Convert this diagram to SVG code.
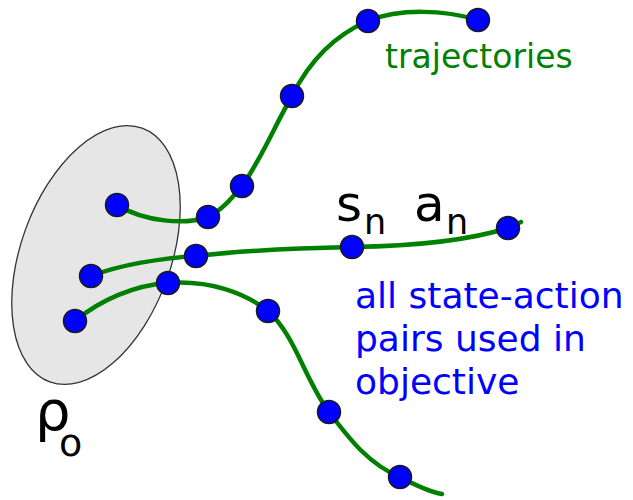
<svg xmlns="http://www.w3.org/2000/svg" width="633" height="500" viewBox="0 0 633 500">
<style>
.traj{fill:none;stroke:#008000;stroke-width:4.5;stroke-linecap:round}
.pt{fill:#0000ff;stroke:#1a1a1a;stroke-width:1.5}
.t{font-family:"DejaVu Sans",sans-serif}
</style>
<rect width="633" height="500" fill="#fff"/>
<g id="rho0">
<ellipse cx="96" cy="255" rx="75" ry="135" transform="rotate(20 96 255)" fill="#e6e6e6" stroke="#333" stroke-width="1.3"/>
<text class="t" x="35" y="430" font-size="56" fill="#000">ρ</text>
<text class="t" x="59" y="456" font-size="38" fill="#000">o</text>
</g>
<g id="connectors">
<path class="traj" d="M117,205 C145,222 185,225 208,217 C222,210 232,198 242,186 C262,158 275,125 292,96 C310,60 335,35 368,21 C400,8 445,10 478,20"/>
<path class="traj" d="M91,276 C120,265 160,258 196,256 C250,250 300,248 352,247 C420,246 470,240 508,228 L521,222"/>
<path class="traj" d="M75,321 C100,300 135,285 168,283 C210,280 245,293 268,311 C295,335 305,380 329,412 C350,440 370,465 400,477 C415,485 430,492 442,494"/>
</g>
<g id="n1a"><circle class="pt" cx="117" cy="205" r="11.5"/></g>
<g id="n1b"><circle class="pt" cx="208" cy="217" r="11.5"/></g>
<g id="n1c"><circle class="pt" cx="242" cy="186" r="11.5"/></g>
<g id="n1d"><circle class="pt" cx="292" cy="96" r="11.5"/></g>
<g id="n1e"><circle class="pt" cx="368" cy="21" r="11.5"/></g>
<g id="n1f"><circle class="pt" cx="478" cy="20" r="11.5"/></g>
<g id="n2a"><circle class="pt" cx="91" cy="276" r="11.5"/></g>
<g id="n2b"><circle class="pt" cx="196" cy="256" r="11.5"/></g>
<g id="n2c"><circle class="pt" cx="352" cy="247" r="11.5"/></g>
<g id="n2d"><circle class="pt" cx="508" cy="228" r="11.5"/></g>
<g id="n3a"><circle class="pt" cx="75" cy="321" r="11.5"/></g>
<g id="n3b"><circle class="pt" cx="168" cy="283" r="11.5"/></g>
<g id="n3c"><circle class="pt" cx="268" cy="311" r="11.5"/></g>
<g id="n3d"><circle class="pt" cx="329" cy="412" r="11.5"/></g>
<g id="n3e"><circle class="pt" cx="400" cy="477" r="11.5"/></g>
<g id="label-traj"><text class="t" x="385" y="68" font-size="33" fill="#008000">trajectories</text></g>
<g id="label-sa">
<text class="t" x="336" y="221" font-size="50" fill="#000">s</text>
<text class="t" x="364" y="234" font-size="35" fill="#000">n</text>
<text class="t" x="414" y="221" font-size="50" fill="#000">a</text>
<text class="t" x="446" y="234" font-size="35" fill="#000">n</text>
</g>
<g id="label-pairs">
<text class="t" font-size="36" fill="#0000ff"><tspan x="355" y="308">all state-action</tspan><tspan x="355" y="351">pairs used in</tspan><tspan x="355" y="394">objective</tspan></text>
</g>
</svg>
